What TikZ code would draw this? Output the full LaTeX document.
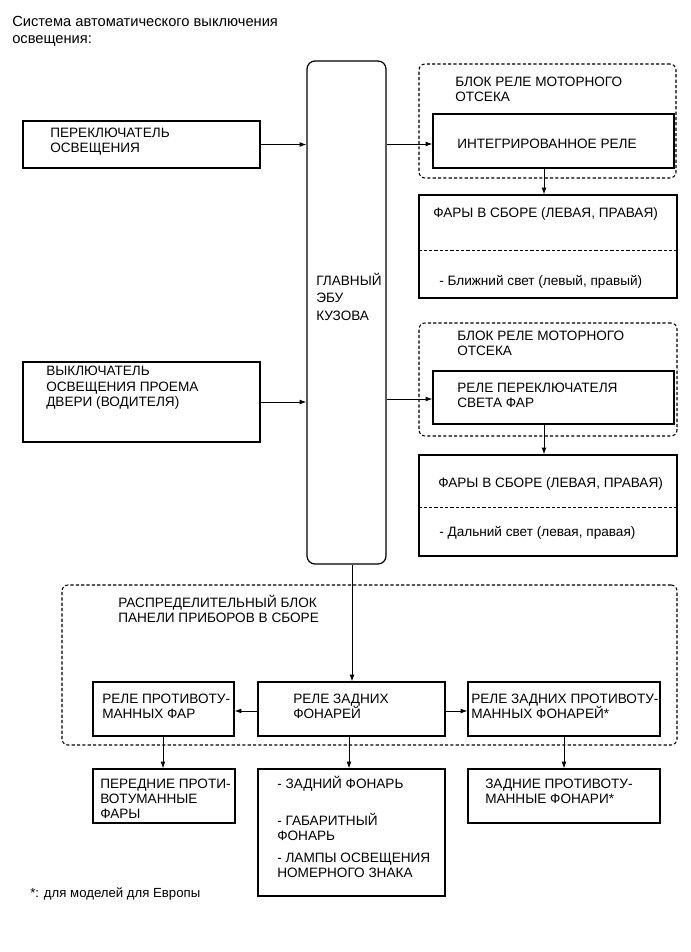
\documentclass[tikz,border=0pt]{standalone}
\usepackage{fontspec}
\setmainfont{Liberation Sans}
\usetikzlibrary{arrows.meta,fit,calc}
\newcommand{\mystrut}{\rule{0pt}{9.375pt}}
\begin{document}
\begin{tikzpicture}[x=0.75pt,y=-0.75pt,
  box/.style={draw, line width=0.9pt, inner sep=0pt},
  grp/.style={draw, line width=0.8pt, dash pattern=on 2.4pt off 1.6pt, rounded corners=4.5pt, inner sep=0pt},
  ecubox/.style={draw, line width=0.9pt, rounded corners=6pt, inner sep=0pt},
  txt/.style={anchor=north west, inner sep=0pt, align=left, font=\fontsize{10.2pt}{11.4pt}\selectfont},
  arr/.style={line width=0.7pt, -{Latex[length=5pt,width=3.6pt]}},
  sepline/.style={line width=0.6pt, dash pattern=on 2.4pt off 1.6pt}
]
\useasboundingbox (0,0) rectangle (691,952);

% title
\node[anchor=north west, inner sep=0pt, align=left, font=\fontsize{11pt}{12.75pt}\selectfont] (title) at (12,14)
  {\mystrut Система автоматического выключения\\освещения:};

% boxes
\node[box, fit={(23,121) (260,168)}] (sw1) {};
\node[box, fit={(23,362) (260,442)}] (sw2) {};
\node[ecubox, fit={(307,61) (386,564)}] (ecu) {};
\node[grp, fit={(419,64) (676,178)}] (grp1) {};
\node[box, fit={(433,114) (674,168)}] (relay1) {};
\node[box, fit={(419,195) (677,298)}] (head1) {};
\node[grp, fit={(419,323) (677,436)}] (grp2) {};
\node[box, fit={(433,371) (674,424)}] (relay2) {};
\node[box, fit={(419,455) (677,556)}] (head2) {};
\node[grp, fit={(62,585) (677,745)}] (grp3) {};
\node[box, fit={(93,682) (234,736)}] (fogrel) {};
\node[box, fit={(258,682) (445,736)}] (rrel) {};
\node[box, fit={(468,682) (660,736)}] (rfogrel) {};
\node[box, fit={(93,769) (235,823)}] (ffog) {};
\node[box, fit={(258,769) (445,896)}] (lamps) {};
\node[box, fit={(468,769) (660,823)}] (rfog) {};

% separators
\draw[sepline] (head1.west |- 0,250) -- (head1.east |- 0,250);
\draw[sepline] (head2.west |- 0,507) -- (head2.east |- 0,507);

% texts
\node[txt] (t-sw1) at (50,124.5) {\mystrut ПЕРЕКЛЮЧАТЕЛЬ\\ОСВЕЩЕНИЯ};
\node[txt] (t-sw2) at (46,363.2) {\mystrut ВЫКЛЮЧАТЕЛЬ\\ОСВЕЩЕНИЯ ПРОЕМА\\ДВЕРИ (ВОДИТЕЛЯ)};
\node[txt, font=\fontsize{10.2pt}{13.1pt}\selectfont] (t-ecu) at (316,272.5) {\mystrut ГЛАВНЫЙ\\ЭБУ\\КУЗОВА};
\node[txt] (t-grp1) at (455,73.5) {\mystrut БЛОК РЕЛЕ МОТОРНОГО\\ОТСЕКА};
\node[txt] (t-relay1) at (457,135.5) {\mystrut ИНТЕГРИРОВАННОЕ РЕЛЕ};
\node[txt] (t-head1) at (433,204.5) {\mystrut ФАРЫ В СБОРЕ (ЛЕВАЯ, ПРАВАЯ)};
\node[txt] (t-low) at (439,272.5) {\mystrut - Ближний свет (левый, правый)};
\node[txt] (t-grp2) at (457,327.5) {\mystrut БЛОК РЕЛЕ МОТОРНОГО\\ОТСЕКА};
\node[txt] (t-relay2) at (457,379.5) {\mystrut РЕЛЕ ПЕРЕКЛЮЧАТЕЛЯ\\СВЕТА ФАР};
\node[txt] (t-head2) at (438,474.5) {\mystrut ФАРЫ В СБОРЕ (ЛЕВАЯ, ПРАВАЯ)};
\node[txt] (t-high) at (439,523.5) {\mystrut - Дальний свет (левая, правая)};
\node[txt] (t-grp3) at (118,594.5) {\mystrut РАСПРЕДЕЛИТЕЛЬНЫЙ БЛОК\\ПАНЕЛИ ПРИБОРОВ В СБОРЕ};
\node[txt] (t-fogrel) at (102,690.5) {\mystrut РЕЛЕ ПРОТИВОТУ-\\МАННЫХ ФАР};
\node[txt] (t-rrel) at (293,690.5) {\mystrut РЕЛЕ ЗАДНИХ\\ФОНАРЕЙ};
\node[txt] (t-rfogrel) at (471,690.5) {\mystrut РЕЛЕ ЗАДНИХ ПРОТИВОТУ-\\МАННЫХ ФОНАРЕЙ*};
\node[txt] (t-ffog) at (100,775.5) {\mystrut ПЕРЕДНИЕ ПРОТИ-\\ВОТУМАННЫЕ\\ФАРЫ};
\node[txt] (t-lamp1) at (277,775.5) {\mystrut - ЗАДНИЙ ФОНАРЬ};
\node[txt] (t-lamp2) at (277,812.5) {\mystrut - ГАБАРИТНЫЙ\\ФОНАРЬ};
\node[txt] (t-lamp3) at (277,849.5) {\mystrut - ЛАМПЫ ОСВЕЩЕНИЯ\\НОМЕРНОГО ЗНАКА};
\node[txt] (t-rfog) at (485,775.5) {\mystrut ЗАДНИЕ ПРОТИВОТУ-\\МАННЫЕ ФОНАРИ*};
\node[txt, font=\fontsize{9.9pt}{11pt}\selectfont] (note) at (30,885) {\mystrut *: для моделей для Европы};

% connectors
\draw[arr] (sw1.east) -- (sw1.east -| ecu.west);
\draw[arr] (sw2.east) -- (sw2.east -| ecu.west);
\draw[arr] (ecu.east |- 0,144) -- (relay1.west |- 0,144);
\draw[arr] (ecu.east |- 0,399) -- (relay2.west |- 0,399);
\draw[arr] (relay1.south -| 544,0) -- (head1.north -| 544,0);
\draw[arr] (relay2.south -| 544,0) -- (head2.north -| 544,0);
\draw[arr] (ecu.south -| 352,0) -- (rrel.north -| 352,0);
\draw[arr] (rrel.west |- 0,711) -- (fogrel.east |- 0,711);
\draw[arr] (rrel.east |- 0,711) -- (rfogrel.west |- 0,711);
\draw[arr] (fogrel.south -| 163,0) -- (ffog.north -| 163,0);
\draw[arr] (rrel.south -| 349,0) -- (lamps.north -| 349,0);
\draw[arr] (rfogrel.south -| 564,0) -- (rfog.north -| 564,0);
\end{tikzpicture}
\end{document}
